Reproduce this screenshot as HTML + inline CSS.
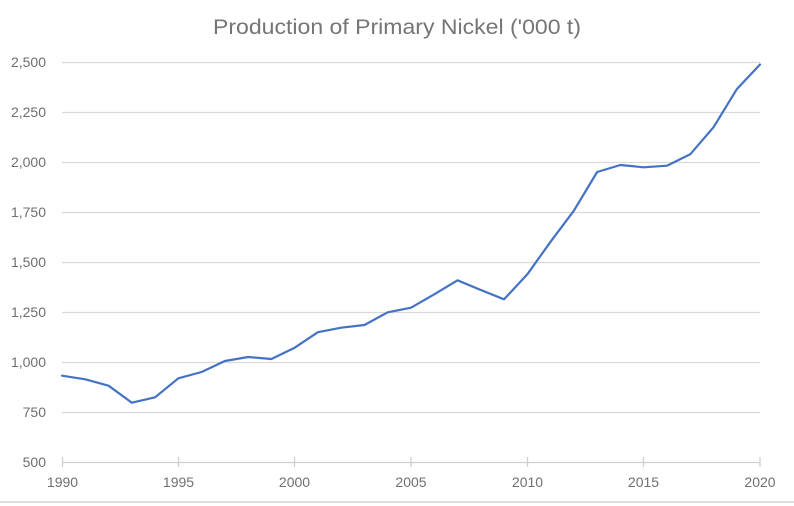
<!DOCTYPE html>
<html>
<head>
<meta charset="utf-8">
<style>
  html, body { margin: 0; padding: 0; background: #ffffff; }
  body { width: 794px; height: 506px; overflow: hidden; }
  svg { display: block; }
  text { font-family: "Liberation Sans", Arial, sans-serif; }
</style>
</head>
<body>
<svg width="794" height="506" viewBox="0 0 794 506" xmlns="http://www.w3.org/2000/svg">
  <rect x="0" y="0" width="794" height="506" fill="#ffffff"/>
  <!-- Title -->
  <text x="397" y="34" text-anchor="middle" font-size="21" fill="#757575" textLength="368" lengthAdjust="spacingAndGlyphs">Production of Primary Nickel ('000 t)</text>

  <!-- Gridlines -->
  <g stroke="#d9d9d9" stroke-width="1.3">
    <line x1="62" y1="62.5" x2="760" y2="62.5"/>
    <line x1="62" y1="112.5" x2="760" y2="112.5"/>
    <line x1="62" y1="162.5" x2="760" y2="162.5"/>
    <line x1="62" y1="212.5" x2="760" y2="212.5"/>
    <line x1="62" y1="262.5" x2="760" y2="262.5"/>
    <line x1="62" y1="312.5" x2="760" y2="312.5"/>
    <line x1="62" y1="362.5" x2="760" y2="362.5"/>
    <line x1="62" y1="412.5" x2="760" y2="412.5"/>
  </g>
  <!-- X axis -->
  <g stroke="#d0d0d0" stroke-width="1.3">
    <line x1="62" y1="462.5" x2="760" y2="462.5"/>
    <line x1="62.5" y1="457" x2="62.5" y2="467"/>
    <line x1="178.5" y1="457" x2="178.5" y2="467"/>
    <line x1="294.5" y1="457" x2="294.5" y2="467"/>
    <line x1="411" y1="457" x2="411" y2="467"/>
    <line x1="527.5" y1="457" x2="527.5" y2="467"/>
    <line x1="643.5" y1="457" x2="643.5" y2="467"/>
    <line x1="760" y1="457" x2="760" y2="467"/>
  </g>

  <!-- Y labels -->
  <g font-size="14" fill="#6f6f6f" text-anchor="end">
    <text x="46" y="67">2,500</text>
    <text x="46" y="117">2,250</text>
    <text x="46" y="167">2,000</text>
    <text x="46" y="217">1,750</text>
    <text x="46" y="267">1,500</text>
    <text x="46" y="317">1,250</text>
    <text x="46" y="367">1,000</text>
    <text x="46" y="417">750</text>
    <text x="46" y="467">500</text>
  </g>
  <!-- X labels -->
  <g font-size="14" fill="#6f6f6f" text-anchor="middle">
    <text x="62.5" y="487">1990</text>
    <text x="178.5" y="487">1995</text>
    <text x="294.5" y="487">2000</text>
    <text x="411" y="487">2005</text>
    <text x="527.5" y="487">2010</text>
    <text x="643.5" y="487">2015</text>
    <text x="760" y="487">2020</text>
  </g>

  <!-- Series -->
  <polyline fill="none" stroke="#4472c4" stroke-width="2.2" stroke-linejoin="round" stroke-linecap="round"
    points="62,375.7 85.27,379.3 108.53,385.7 131.8,402.7 155.07,397.3 178.33,378.3 201.6,372 224.87,361 248.13,357 271.4,359 294.67,347.7 317.93,332.2 341.2,327.7 364.47,325 387.73,312.3 411,307.7 434.27,294.3 457.53,280.3 480.8,290 504.07,299.3 527.33,274.3 550.6,241.7 573.87,210.7 597.13,172 620.4,165 643.67,167.3 666.93,165.7 690.2,154.3 713.47,127.3 736.73,89.3 760,64.5"/>

  <!-- Bottom border line -->
  <rect x="0" y="501" width="794" height="2" fill="#dcdcdc"/>
</svg>
</body>
</html>
